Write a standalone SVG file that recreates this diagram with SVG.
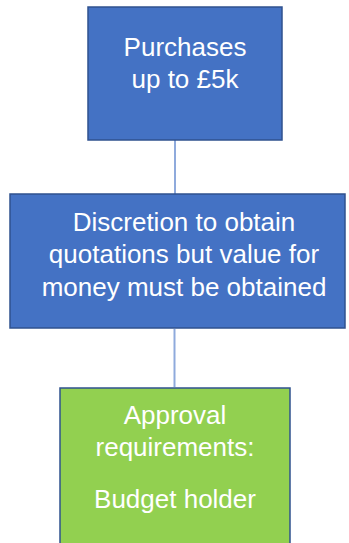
<svg xmlns="http://www.w3.org/2000/svg" width="349" height="543" viewBox="0 0 349 543">
  <style>
    .box-blue { fill: #4472C4; stroke: #2F528F; stroke-width: 1.5; }
    .box-green { fill: #92D050; stroke: #2F528F; stroke-width: 1.5; }
    .label { font-family: "Liberation Sans", Arial, sans-serif; font-size: 26px; fill: #FFFFFF; text-anchor: middle; }
    .link { stroke: #8FAADC; stroke-width: 2; fill: none; }
  </style>
  <rect width="349" height="543" fill="#FFFFFF"/>

  <!-- connectors between the steps -->
  <g id="connectors">
    <line class="link" x1="175" y1="140" x2="175" y2="194"/>
    <line class="link" x1="174.5" y1="329" x2="174.5" y2="387"/>
  </g>

  <!-- step 1 -->
  <g id="node-purchases">
    <rect class="box-blue" x="88" y="7" width="194" height="133"/>
    <text class="label" x="185" y="56">Purchases</text>
    <text class="label" x="185" y="88">up to £5k</text>
  </g>

  <!-- step 2 -->
  <g id="node-discretion">
    <rect class="box-blue" x="10" y="194" width="335" height="134"/>
    <text class="label" x="184" y="231">Discretion to obtain</text>
    <text class="label" x="184" y="263">quotations but value for</text>
    <text class="label" x="184" y="296">money must be obtained</text>
  </g>

  <!-- step 3 -->
  <g id="node-approval">
    <rect class="box-green" x="60" y="388" width="230" height="170"/>
    <text class="label" x="175" y="424">Approval</text>
    <text class="label" x="175" y="456">requirements:</text>
    <text class="label" x="175" y="508">Budget holder</text>
  </g>
</svg>
